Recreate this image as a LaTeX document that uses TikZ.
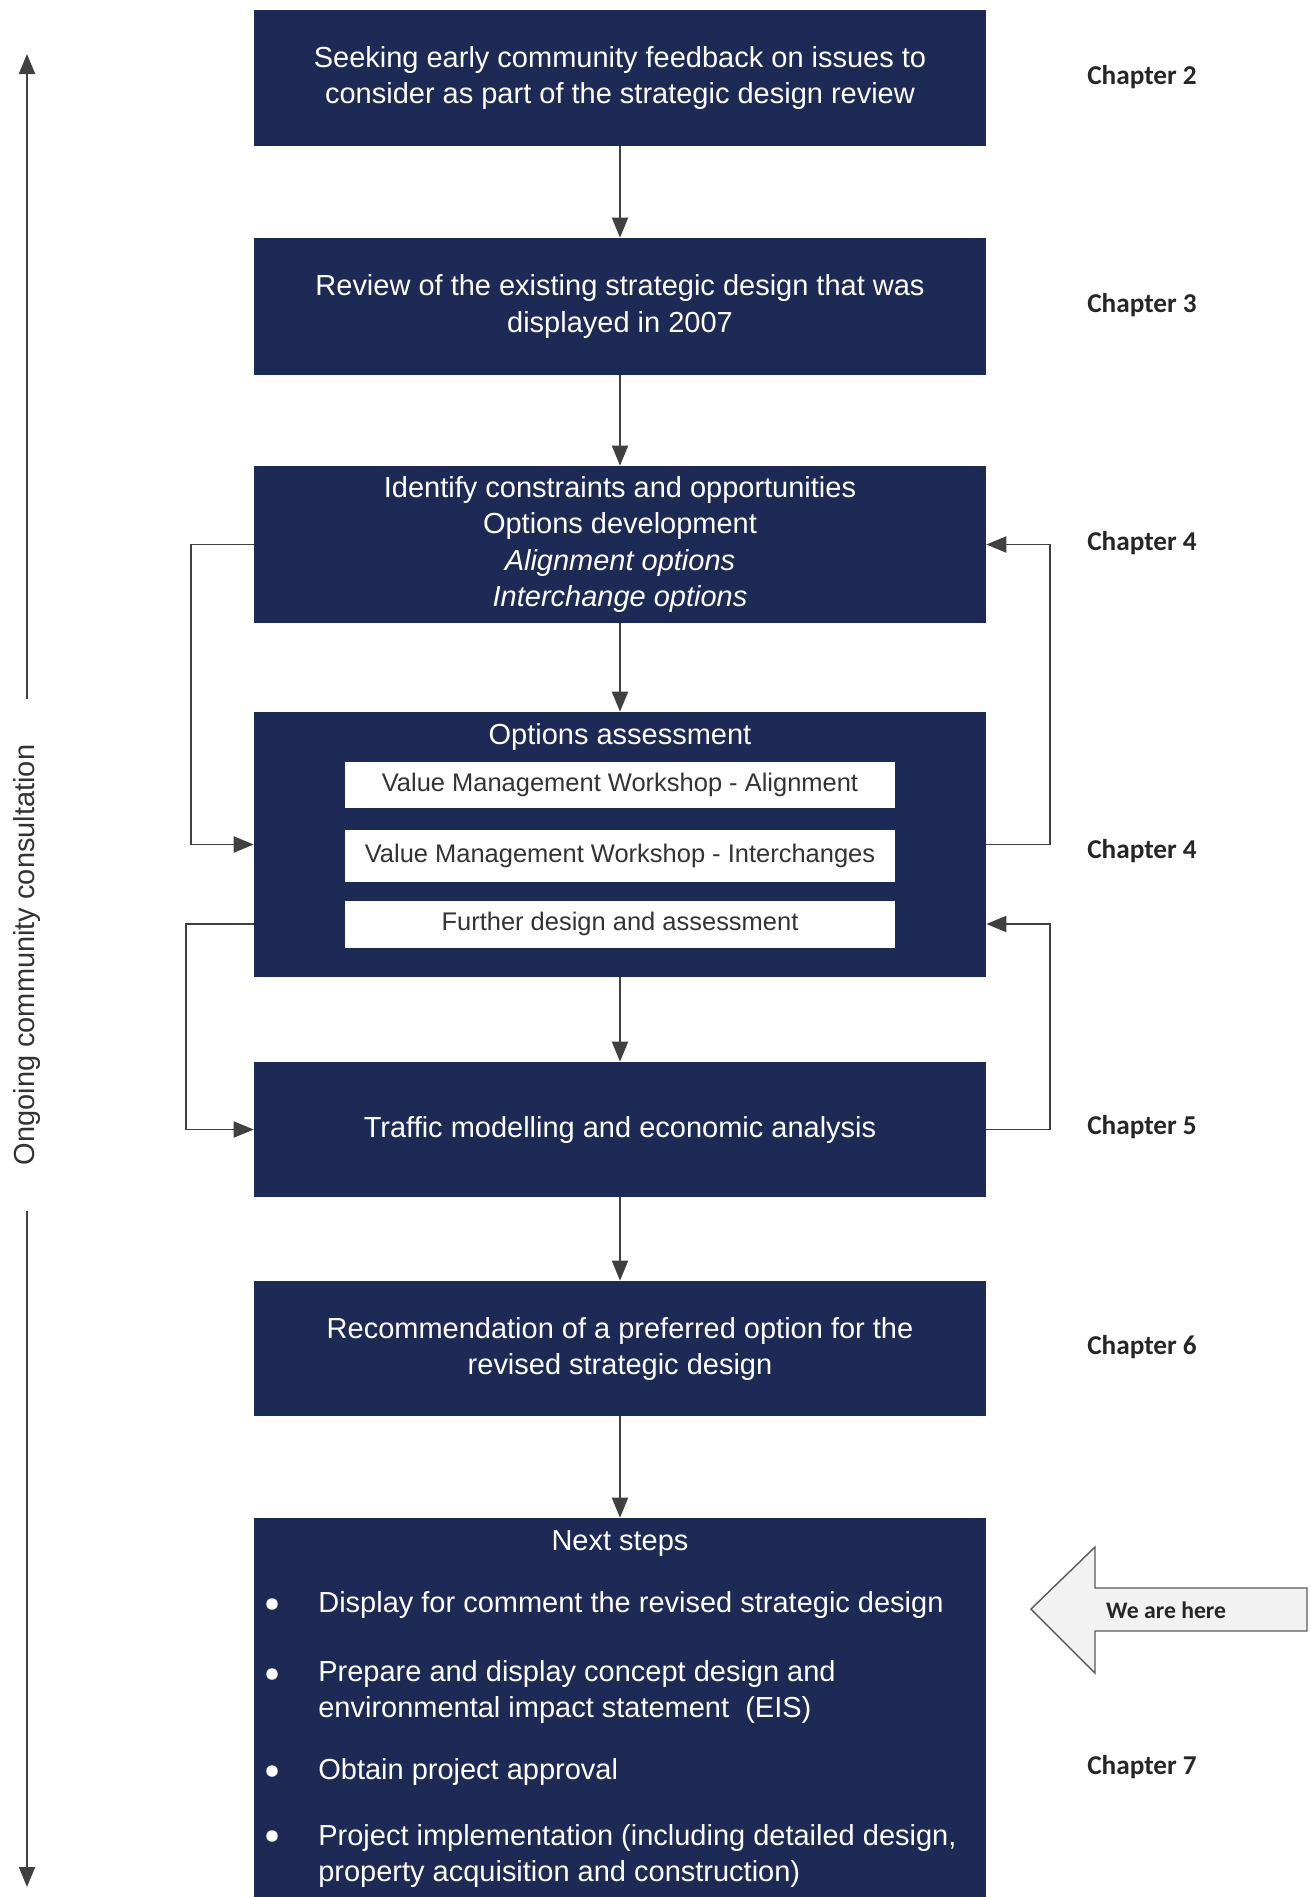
\documentclass[tikz,border=0pt]{standalone}
\usepackage{fontspec}
\setmainfont{Liberation Sans}
\newfontfamily\chapfont{Carlito}
\definecolor{navy}{RGB}{30,42,86}
\definecolor{linegray}{RGB}{64,64,64}
\definecolor{notegray}{RGB}{242,242,242}
\usetikzlibrary{arrows.meta, positioning}
\tikzset{
    stage/.style={
           rectangle,
           fill=navy, draw=none,
           text=white,
           minimum width=14.64cm,
           inner sep=0pt,
           align=center,
           font=\fontsize{16.5}{20.5}\selectfont,
           },
    subbox/.style={
           rectangle,
           fill=white,
           text=black!80,
           minimum width=11cm,
           inner sep=0pt,
           font=\fontsize{14.5}{17}\selectfont,
           },
    chap/.style={font=\chapfont\bfseries\fontsize{15.5}{18}\selectfont, text=black!85},
    stepitem/.style={anchor=west, align=left, text=white, inner sep=0pt,
           font=\fontsize{16.5}{20.5}\selectfont},
    dot/.style={circle, fill=white, minimum size=0.23cm, inner sep=0pt},
    flow/.style={draw=linegray, line width=1.1pt, -{Triangle[length=0.4cm, width=0.32cm]}},
}
\newcommand{\chap}[1]{Chapter #1}

\begin{document}
\begin{tikzpicture}[x=0.02cm, y=-0.02cm]
  \useasboundingbox (0,0) rectangle (1311,1897);
  % main stages
  \node[stage, minimum height=2.72cm] (b1) at (620,  78) {Seeking early community feedback on issues to\\consider as part of the strategic design review};
  \node[stage, minimum height=2.74cm] (b2) at (620, 306.5) {Review of the existing strategic design that was\\displayed in 2007};
  \node[stage, minimum height=3.14cm] (b3) at (620, 544.5) {Identify constraints and opportunities\\Options development\\\textit{Alignment options}\\\textit{Interchange options}};
  \node[stage, minimum height=5.3cm]  (b4) at (620, 844.5) {};
  \node[stage, minimum height=2.7cm]  (b5) at (620,1129.5) {Traffic modelling and economic analysis};
  \node[stage, minimum height=2.7cm]  (b6) at (620,1348.5) {Recommendation of a preferred option for the\\revised strategic design};
  \node[stage, minimum height=8.04cm] (b7) at (620,1719)   {};
  % options assessment
  \node[stage, minimum width=0pt] (oa) at (620, 737) {Options assessment};
  \node[subbox, minimum height=0.92cm] (vm1) at (620, 785) {Value Management Workshop - Alignment};
  \node[subbox, minimum height=1.04cm] (vm2) at (620, 856) {Value Management Workshop - Interchanges};
  \node[subbox, minimum height=0.94cm] (fd)  at (620, 924) {Further design and assessment};
  % next steps
  \node[stage, minimum width=0pt] (ns) at (620,1544) {Next steps};
  \node[dot] (d1) at (272,1604) {};
  \node[dot] (d2) at (272,1674) {};
  \node[dot] (d3) at (272,1771) {};
  \node[dot] (d4) at (272,1836) {};
  \node[stepitem] (s1) at (318,1605)   {Display for comment the revised strategic design};
  \node[stepitem] (s2) at (318,1691.5) {Prepare and display concept design and\\environmental impact statement\ \ (EIS)};
  \node[stepitem] (s3) at (318,1772)   {Obtain project approval};
  \node[stepitem] (s4) at (318,1856)   {Project implementation (including detailed design,\\property acquisition and construction)};
  % chapters
  \node[chap] (ch2)  at (1142,  77) {\chap{2}};
  \node[chap] (ch3)  at (1142, 305) {\chap{3}};
  \node[chap] (ch4a) at (1142, 543) {\chap{4}};
  \node[chap] (ch4b) at (1142, 851) {\chap{4}};
  \node[chap] (ch5)  at (1142,1127) {\chap{5}};
  \node[chap] (ch6)  at (1142,1347) {\chap{6}};
  \node[chap] (ch7)  at (1142,1767) {\chap{7}};
  % flow
  \draw[flow] (b1) -- (b2);
  \draw[flow] (b2) -- (b3);
  \draw[flow] (b3) -- (b4);
  \draw[flow] (b4) -- (b5);
  \draw[flow] (b5) -- (b6);
  \draw[flow] (b6) -- (b7);
  \draw[flow] (b3.west) -- ++(-63,0) |- (b4.west);
  \draw[flow] (fd -| b4.west) -- ++(-68,0) |- (b5.west);
  \draw[flow] (b4.east) -- ++(64,0) |- (b3.east);
  \draw[flow] (b5.east) -- ++(64,0) |- (fd -| b4.east);
  % ongoing consultation
  \coordinate (ctop) at (27,  54);
  \coordinate (cbot) at (27,1887);
  \node[rotate=90, inner xsep=0.9cm, inner ysep=0pt, text=black!80,
        font=\fontsize{16.5}{20}\selectfont] (cons) at (27,955) {Ongoing community consultation};
  \draw[flow] (cons.east) -- (ctop);
  \draw[flow] (cons.west) -- (cbot);
  % we are here
  \draw[draw=black!65, fill=notegray, line width=0.8pt, line join=miter]
    (1031,1609) -- (1095,1547) -- (1095,1588) -- (1307,1588) -- (1307,1631)
    -- (1095,1631) -- (1095,1673) -- cycle;
  \node[chap, font=\chapfont\bfseries\fontsize{13.5}{16}\selectfont, anchor=west] (here) at (1100,1610) {We are here};
\end{tikzpicture}
\end{document}
